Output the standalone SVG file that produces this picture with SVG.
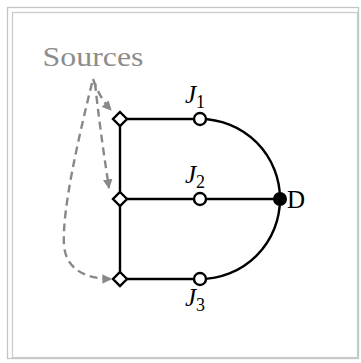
<svg xmlns="http://www.w3.org/2000/svg" width="361" height="363" viewBox="0 0 361 363">
<style>
.edge{fill:none;stroke:#000;stroke-width:2.4}
.src{fill:#fff;stroke:#000;stroke-width:2.4}
.junc{fill:#fff;stroke:#000;stroke-width:2.4}
.dash{fill:none;stroke:#888;stroke-width:2.4;stroke-dasharray:8,5}
.lbl{font-family:"Liberation Serif",serif;font-size:25px;fill:#000}
.lblg{font-family:"Liberation Serif",serif;font-size:27px;fill:#8c8c8c}
</style>
<defs>
<marker id="ah" viewBox="0 0 10 10" refX="9" refY="5" markerWidth="4" markerHeight="4" orient="auto" markerUnits="strokeWidth">
<path d="M0,0 L10,5 L0,10 z" fill="#888"/>
</marker>
</defs>
<rect x="7.5" y="7.5" width="351" height="351" fill="#fff" stroke="#c4c4c4" stroke-width="1.3"/>
<rect x="12.5" y="12.5" width="345" height="345" fill="none" stroke="#cccccc" stroke-width="1.3"/>
<g id="connectors">
<path class="edge" d="M120,119 L200,119"/>
<path class="edge" d="M120,199 L280,199"/>
<path class="edge" d="M120,279 L200,279"/>
<path class="edge" d="M120,119 L120,279"/>
<path class="edge" d="M200,119 A80,80 0 0 1 280,199 A80,80 0 0 1 200,279"/>
<path class="dash" d="M93,79 Q99,97 111,110" marker-end="url(#ah)"/>
<path class="dash" d="M95,83 Q100,130 109,188" marker-end="url(#ah)"/>
<path class="dash" d="M92,83 C78,140 62,210 64,245 C66,272 90,279 111,279" marker-end="url(#ah)"/>
</g>
<g id="sources-label"><text class="lblg" x="93" y="66" text-anchor="middle" textLength="101" lengthAdjust="spacingAndGlyphs">Sources</text></g>
<g id="s1"><path class="src" d="M120,112 L127,119 L120,126 L113,119 z"/></g>
<g id="s2"><path class="src" d="M120,192 L127,199 L120,206 L113,199 z"/></g>
<g id="s3"><path class="src" d="M120,272 L127,279 L120,286 L113,279 z"/></g>
<g id="J1"><circle class="junc" cx="200" cy="119" r="6"/><text class="lbl" x="185" y="103" font-style="italic">J<tspan font-style="normal" font-size="18" dy="5">1</tspan></text></g>
<g id="J2"><circle class="junc" cx="200" cy="199" r="6"/><text class="lbl" x="185" y="183" font-style="italic">J<tspan font-style="normal" font-size="18" dy="5">2</tspan></text></g>
<g id="J3"><circle class="junc" cx="200" cy="279" r="6"/><text class="lbl" x="185" y="306" font-style="italic">J<tspan font-style="normal" font-size="18" dy="5">3</tspan></text></g>
<g id="D"><circle cx="280" cy="199" r="7" fill="#000"/><text class="lbl" x="287" y="208">D</text></g>
</svg>
